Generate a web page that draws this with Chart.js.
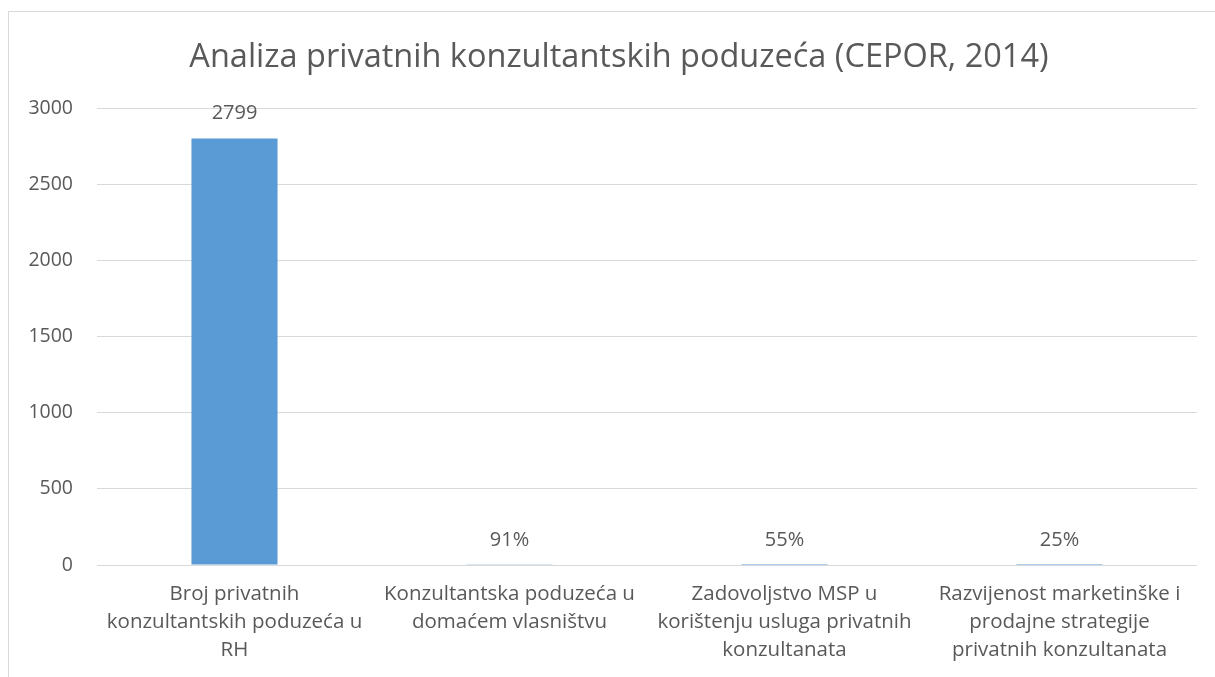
<!DOCTYPE html>
<html>
<head>
<meta charset="utf-8">
<script src="https://cdn.jsdelivr.net/npm/chart.js@4/dist/chart.umd.min.js"></script>
<style>
  html, body { margin: 0; padding: 0; background: #ffffff; }
  #wrap { position: relative; width: 1215px; height: 677px; }
</style>
</head>
<body>
<div id="wrap"><canvas id="c" width="1215" height="677"></canvas></div>
<script>
const chartTitle = "Analiza privatnih konzultantskih poduzeća (CEPOR, 2014)";
const categories = [
  ["Broj privatnih", "konzultantskih poduzeća u", "RH"],
  ["Konzultantska poduzeća u", "domaćem vlasništvu"],
  ["Zadovoljstvo MSP u", "korištenju usluga privatnih", "konzultanata"],
  ["Razvijenost marketinške i", "prodajne strategije", "privatnih konzultanata"]
];
const values = [2799, 0.91, 0.55, 0.25];
const valueLabels = ["2799", "91%", "55%", "25%"];
const yTicks = [0, 500, 1000, 1500, 2000, 2500, 3000];

const FONT = "'Open Sans', Lato, sans-serif";
const TEXT = "#595959";
const GRID = "#d9d9d9";

const frame = {
  id: "frame",
  afterLayout(chart) {
    // centre the title over the whole chart frame (frame starts at x=8, extends past right edge)
    const t = chart.titleBlock;
    if (t) { t.left = 41; t.right = 1197; t.width = t.right - t.left; }
  },
  beforeDraw(chart) {
    const ctx = chart.ctx;
    ctx.save();
    ctx.fillStyle = "#ffffff";
    ctx.fillRect(0, 0, chart.width, chart.height);
    ctx.strokeStyle = GRID;
    ctx.lineWidth = 1;
    ctx.beginPath();
    ctx.moveTo(8.5, chart.height + 2);
    ctx.lineTo(8.5, 11.5);
    ctx.lineTo(chart.width + 2, 11.5);
    ctx.stroke();
    ctx.restore();
  }
};

const barLabels = {
  id: "barLabels",
  afterDatasetsDraw(chart) {
    const ctx = chart.ctx;
    const meta = chart.getDatasetMeta(0);
    ctx.save();
    ctx.font = "20px " + FONT;
    ctx.fillStyle = TEXT;
    ctx.textAlign = "center";
    ctx.textBaseline = "middle";
    meta.data.forEach((bar, i) => {
      ctx.fillText(valueLabels[i], bar.x, bar.y - 25);
    });
    ctx.restore();
  }
};

new Chart(document.getElementById("c"), {
  type: "bar",
  data: {
    labels: categories,
    datasets: [{
      data: values,
      backgroundColor: "#5b9bd5",
      borderWidth: 0,
      barPercentage: 0.313,
      categoryPercentage: 1.0
    }]
  },
  options: {
    responsive: false,
    animation: false,
    devicePixelRatio: 1,
    layout: { padding: { left: 0, right: 18, top: 0, bottom: 0 } },
    plugins: {
      legend: { display: false },
      tooltip: { enabled: false },
      title: {
        display: true,
        text: chartTitle,
        color: TEXT,
        font: { family: FONT, size: 32.5, weight: "normal" },
        padding: { top: 38, bottom: 31 }
      }
    },
    scales: {
      x: {
        grid: { display: false, drawTicks: false },
        border: { display: false },
        ticks: {
          color: TEXT,
          font: { family: FONT, size: 20.5, lineHeight: 1.366 },
          padding: 15,
          maxRotation: 0,
          autoSkip: false
        },
        afterFit(scale) { scale.height = 112; }
      },
      y: {
        min: 0,
        max: 3000,
        afterBuildTicks(scale) { scale.ticks = yTicks.map(v => ({ value: v })); },
        grid: { color: GRID, lineWidth: 1, drawTicks: false },
        border: { display: false },
        ticks: {
          color: TEXT,
          font: { family: FONT, size: 19.5 },
          padding: 24,
          callback: (v) => String(v)
        },
        afterFit(scale) { scale.width = 97; }
      }
    }
  },
  plugins: [frame, barLabels]
});
</script>
</body>
</html>
